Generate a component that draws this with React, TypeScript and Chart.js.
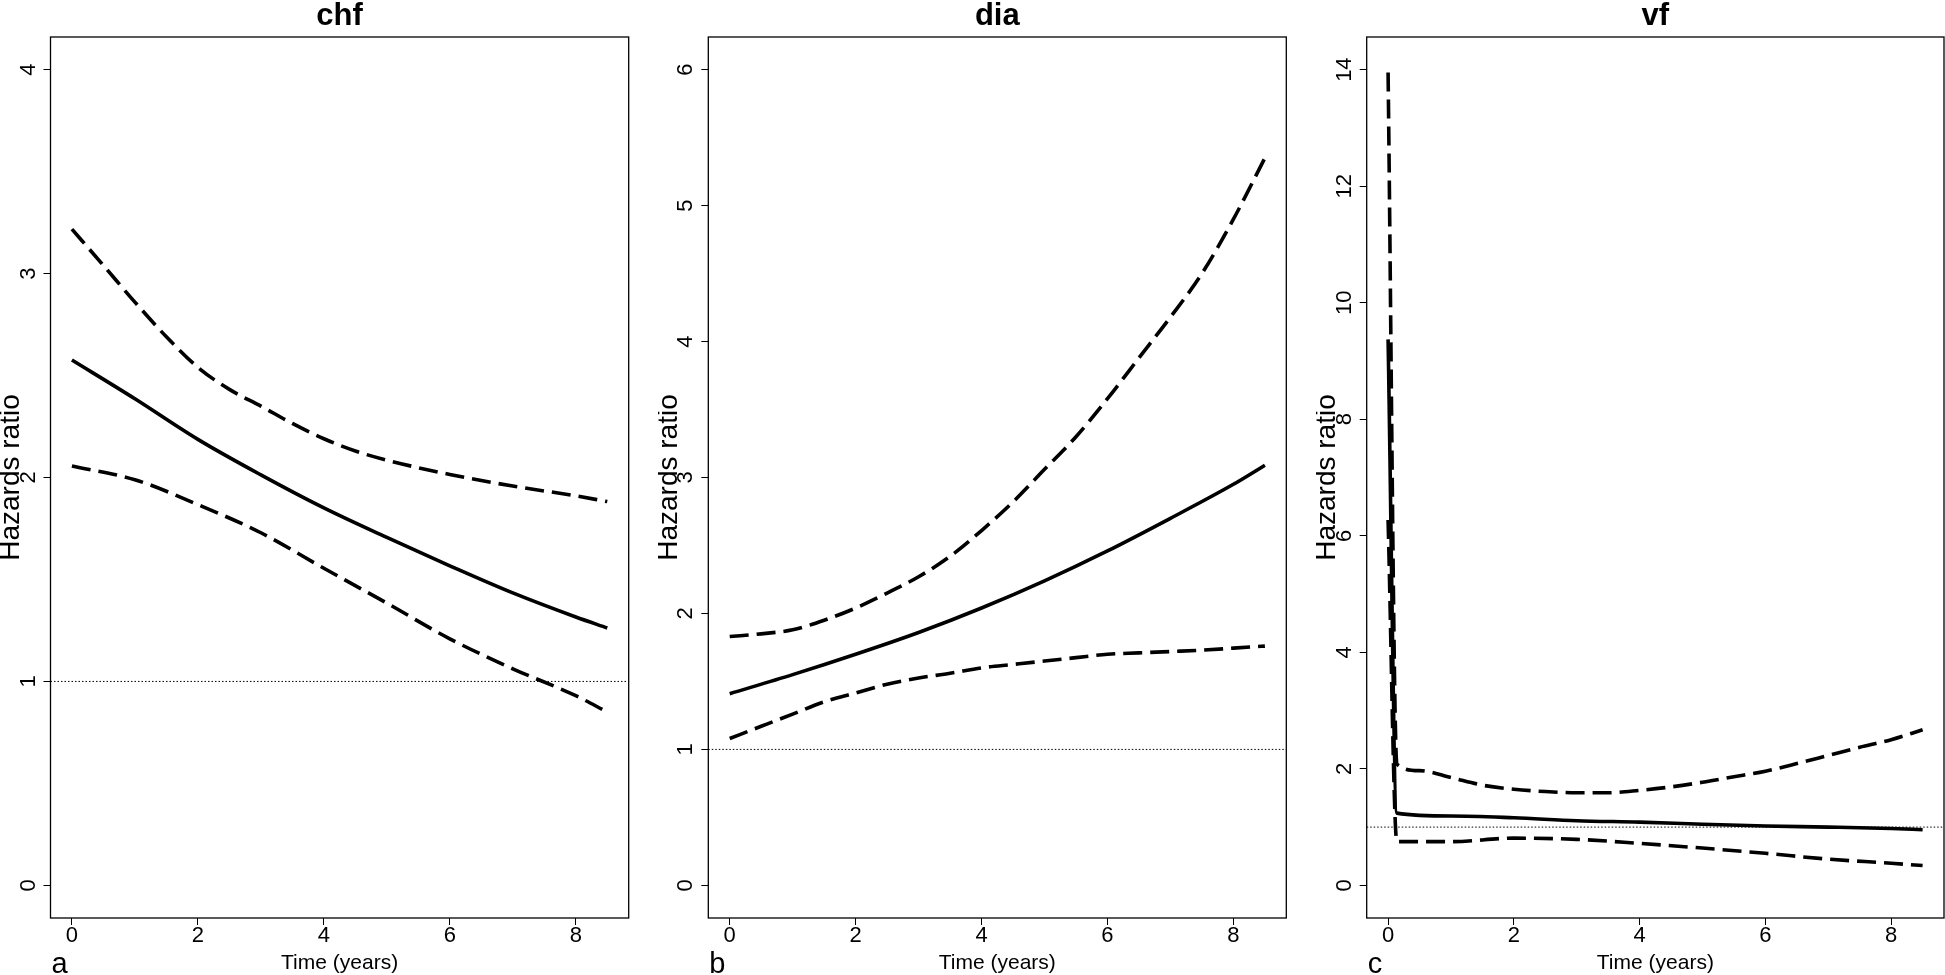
import React, { useEffect, useRef } from "react";
import { Chart, registerables } from "chart.js";

Chart.register(...registerables);

// ---------- data ----------
const xTicks = [0, 2, 4, 6, 8];
const referenceHazard = 1;

// chf
const chfYTicks = [0, 1, 2, 3, 4];
const chfTime = [0, 1, 2, 3, 4, 5, 6, 7, 8, 8.5];
const chfEstimate = [2.576, 2.386, 2.187, 2.013, 1.851, 1.706, 1.567, 1.434, 1.316, 1.262];
const chfUpperTime = [0, 0.5, 1, 1.5, 2, 2.5, 3, 3.5, 4, 4.5, 5, 6, 7, 8, 8.5];
const chfUpper = [3.218, 3.04, 2.86, 2.69, 2.54, 2.432, 2.35, 2.265, 2.19, 2.13, 2.085, 2.015, 1.958, 1.91, 1.882];
const chfLower = [2.056, 1.989, 1.867, 1.729, 1.555, 1.384, 1.209, 1.062, 0.93, 0.85];

// dia
const diaYTicks = [0, 1, 2, 3, 4, 5, 6];
const diaTime = [0, 1, 2, 3, 4, 5, 6, 7, 8, 8.5];
const diaEstimate = [1.41, 1.55, 1.7, 1.86, 2.04, 2.24, 2.46, 2.7, 2.95, 3.09];
const diaBandTime = [0, 0.5, 1, 1.5, 2, 2.5, 3, 3.5, 4, 4.5, 5, 5.5, 6, 6.5, 7, 7.5, 8, 8.5];
const diaUpper = [1.83, 1.85, 1.88, 1.95, 2.04, 2.15, 2.27, 2.42, 2.61, 2.82, 3.06, 3.3, 3.58, 3.88, 4.18, 4.5, 4.9, 5.35];
const diaLower = [1.08, 1.17, 1.26, 1.35, 1.415, 1.48, 1.525, 1.56, 1.6, 1.625, 1.65, 1.675, 1.7, 1.71, 1.72, 1.73, 1.745, 1.76];

// vf
const vfYTicks = [0, 2, 4, 6, 8, 10, 12, 14];
const vfTime = [0, 0.14, 1, 2, 3, 4, 5, 6, 7, 8, 8.5];
const vfEstimate = [9.37, 1.24, 1.19, 1.16, 1.11, 1.085, 1.05, 1.02, 1.0, 0.975, 0.955];
const vfUpperTime = [0, 0.14, 0.5, 1, 1.5, 2, 2.5, 3, 3.5, 4, 4.5, 5, 5.5, 6, 6.5, 7, 7.5, 8, 8.5];
const vfUpper = [13.95, 2.08, 1.97, 1.85, 1.72, 1.65, 1.61, 1.59, 1.59, 1.63, 1.69, 1.77, 1.865, 1.96, 2.09, 2.23, 2.37, 2.5, 2.67];
const vfLower = [6.27, 0.75, 0.75, 0.81, 0.79, 0.72, 0.64, 0.55, 0.45, 0.38, 0.34];

// ---------- panel configuration ----------
type PanelCfg = {
  title: string;
  letter: string;
  yTicks: number[];
  yMin: number;
  yMax: number;
  estimate: [number[], number[]];
  upper: [number[], number[]];
  lower: [number[], number[]];
  left: number;
  width: number;
  axisWidth: number;
  padRight: number;
  tickPad: number;
};

const panels: PanelCfg[] = [
  {
    title: "chf", letter: "a", yTicks: chfYTicks, yMin: -0.16, yMax: 4.16,
    estimate: [chfTime, chfEstimate], upper: [chfUpperTime, chfUpper], lower: [chfTime, chfLower],
    left: 0, width: 658, axisWidth: 50.5, padRight: 29.3, tickPad: 8.9,
  },
  {
    title: "dia", letter: "b", yTicks: diaYTicks, yMin: -0.24, yMax: 6.24,
    estimate: [diaTime, diaEstimate], upper: [diaBandTime, diaUpper], lower: [diaBandTime, diaLower],
    left: 658, width: 658, axisWidth: 50.3, padRight: 29.7, tickPad: 8.9,
  },
  {
    title: "vf", letter: "c", yTicks: vfYTicks, yMin: -0.56, yMax: 14.56,
    estimate: [vfTime, vfEstimate], upper: [vfUpperTime, vfUpper], lower: [vfTime, vfLower],
    left: 1316, width: 629, axisWidth: 50.7, padRight: 1, tickPad: 2.8,
  },
];

const FONT = '"Liberation Sans", Arial, Helvetica, sans-serif';
const H = 975;

const toPoints = ([xs, ys]: [number[], number[]]) => xs.map((x, i) => ({ x, y: ys[i] }));

function Panel({ cfg }: { cfg: PanelCfg }) {
  const ref = useRef<HTMLCanvasElement>(null);
  useEffect(() => {
    const canvas = ref.current!;
    const framePlugin = {
      id: "frame" + cfg.letter,
      beforeDatasetsDraw(chart: any) {
        const { ctx, chartArea: a, scales } = chart;
        const y = scales.y.getPixelForValue(referenceHazard);
        ctx.save();
        ctx.strokeStyle = "#000";
        ctx.lineWidth = 1;
        ctx.setLineDash([1.5, 2]);
        ctx.beginPath();
        ctx.moveTo(a.left, y);
        ctx.lineTo(a.right, y);
        ctx.stroke();
        ctx.restore();
      },
      afterDraw(chart: any) {
        const { ctx, chartArea: a } = chart;
        ctx.save();
        ctx.strokeStyle = "#000";
        ctx.lineWidth = 1.3;
        ctx.setLineDash([]);
        ctx.strokeRect(a.left, a.top, a.right - a.left, a.bottom - a.top);
        ctx.fillStyle = "#000";
        ctx.font = `bold 31px ${FONT}`;
        ctx.textAlign = "center";
        ctx.textBaseline = "alphabetic";
        ctx.fillText(cfg.title, (a.left + a.right) / 2, 25);
        ctx.font = `29px ${FONT}`;
        ctx.textAlign = "left";
        ctx.fillText(cfg.letter, a.left + 1, 973);
        ctx.restore();
      },
    };

    const lineBase = {
      borderColor: "#000",
      backgroundColor: "#000",
      pointRadius: 0,
      fill: false,
      borderWidth: 3.6,
      cubicInterpolationMode: "monotone" as const,
    };

    const gridOpts = {
      display: true,
      drawOnChartArea: false,
      drawTicks: true,
      tickLength: 7,
      tickWidth: 1,
      tickColor: "#000",
    };

    const chart = new Chart(canvas, {
      type: "line",
      data: {
        datasets: [
          { ...lineBase, label: "estimate", data: toPoints(cfg.estimate) },
          { ...lineBase, label: "upper", data: toPoints(cfg.upper), borderDash: [19, 8] },
          { ...lineBase, label: "lower", data: toPoints(cfg.lower), borderDash: [19, 8] },
        ],
      },
      options: {
        animation: false,
        responsive: false,
        devicePixelRatio: 1,
        events: [],
        layout: { padding: { top: 37, right: cfg.padRight, left: 0, bottom: 0 } },
        plugins: {
          legend: { display: false },
          tooltip: { enabled: false },
          title: { display: false },
        },
        scales: {
          x: {
            type: "linear",
            min: -0.34,
            max: 8.84,
            afterBuildTicks: (s: any) => {
              s.ticks = xTicks.map((v) => ({ value: v }));
            },
            afterFit: (s: any) => {
              s.height = 57;
            },
            grid: gridOpts,
            border: { display: false },
            ticks: {
              color: "#000",
              font: { family: FONT, size: 22, lineHeight: 1 },
              padding: 0,
              minRotation: 0,
              maxRotation: 0,
              autoSkip: false,
            },
            title: {
              display: true,
              text: "Time (years)",
              color: "#000",
              font: { family: FONT, size: 21, lineHeight: 1 },
              padding: { top: 0, bottom: 1.5 },
            },
          },
          y: {
            type: "linear",
            min: cfg.yMin,
            max: cfg.yMax,
            afterBuildTicks: (s: any) => {
              s.ticks = cfg.yTicks.map((v) => ({ value: v }));
            },
            afterFit: (s: any) => {
              s.width = cfg.axisWidth;
            },
            grid: gridOpts,
            border: { display: false },
            ticks: {
              color: "#000",
              font: { family: FONT, size: 22, lineHeight: 1 },
              padding: cfg.tickPad,
              minRotation: 90,
              maxRotation: 90,
              crossAlign: "center",
              autoSkip: false,
            },
            title: {
              display: true,
              text: "Hazards ratio",
              color: "#000",
              font: { family: FONT, size: 28, lineHeight: 0.75 },
              padding: { top: 0.5, bottom: 0 },
            },
          },
        },
      },
      plugins: [framePlugin],
    } as any);
    return () => chart.destroy();
  }, [cfg]);

  return (
    <canvas
      ref={ref}
      width={cfg.width}
      height={H}
      style={{ position: "absolute", left: cfg.left, top: 0, width: cfg.width, height: H }}
    />
  );
}

export default function App() {
  return (
    <div
      style={{
        position: "fixed",
        left: 0,
        top: 0,
        width: 1945,
        height: H,
        background: "#fff",
        overflow: "hidden",
      }}
    >
      {panels.map((p) => (
        <Panel key={p.title} cfg={p} />
      ))}
    </div>
  );
}
